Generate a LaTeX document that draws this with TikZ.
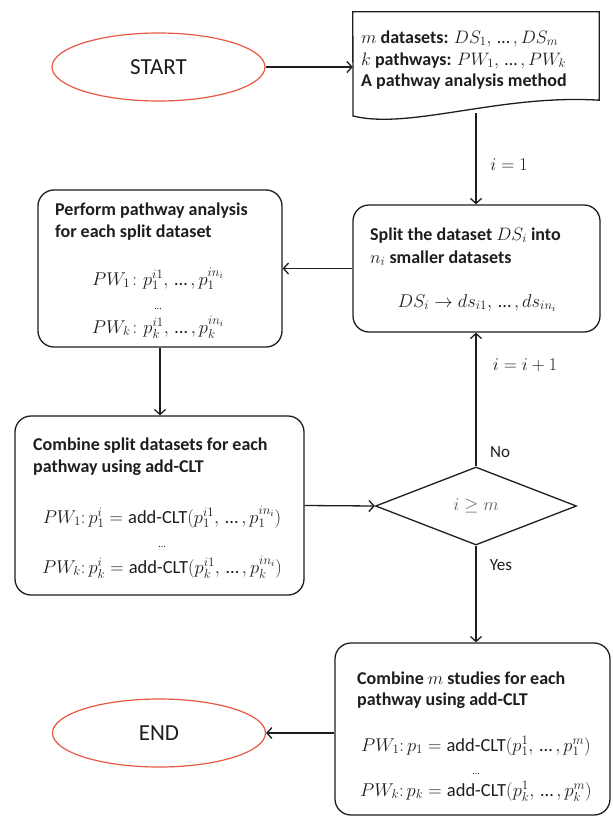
\RequirePackage{fix-cm}
\documentclass[tikz,border=0pt]{standalone}
\usepackage{amsmath}
\usepackage{fontspec}
\setmainfont{Carlito}
\usetikzlibrary{shapes.geometric,arrows.meta}
\definecolor{termred}{RGB}{232,88,66}
\definecolor{ink}{RGB}{30,30,30}
\newcommand{\dts}{\text{\normalfont\,…\,}}
\begin{document}
\begin{tikzpicture}[x=1pt,y=-1pt,
		>={Straight Barb[length=5pt,width=11pt]},
		terminal/.style={ellipse,draw=termred,line width=1.2pt,minimum width=213pt,minimum height=68pt,text=ink,font=\fontsize{23}{26}\selectfont},
		box/.style={draw=ink,rounded corners=16pt,line width=1.3pt,inner sep=0pt},
		txt/.style={anchor=base west,text=ink,inner sep=0pt,font=\fontsize{18}{22}\selectfont},
		formula/.style={anchor=base,text=ink,inner sep=0pt,font=\fontsize{18.5}{22}\selectfont},
		vdots/.style={anchor=base,text=ink,inner sep=0pt,font=\fontsize{10}{10}\selectfont},
		lbl/.style={anchor=center,text=ink,inner sep=0pt,font=\fontsize{17}{20}\selectfont},
		flow/.style={->,draw=ink,line width=1.3pt}]
			\useasboundingbox[fill=white] (0,0) rectangle (613,817);
			% terminals
			\node[terminal] (start) at (158.5,67) {START};
			\node[terminal] (end) at (159,733) {END};
			% input document
			\node[inner sep=0pt,minimum width=246pt,minimum height=88pt] (data) at (476,56) {};
			\draw[ink,line width=1.3pt] (data.north west) -- (data.north east) -- (data.south east) .. controls (500,94) and (410,130) .. (353,116) -- cycle;
			\coordinate (databot) at (476,113);
			\node[txt] (data1) at (361,43) {$m$ \textbf{datasets:} $DS_1,\dts,DS_m$};
			\node[txt] (data2) at (361,65) {$k$ \textbf{pathways:} $PW_1,\dts,PW_k$};
			\node[txt] (data3) at (361,86) {\textbf{A pathway analysis method}};
			% split
			\node[box,minimum width=247pt,minimum height=127pt] (split) at (476.5,268.5) {};
			\node[txt] (split1) at (370,240) {\textbf{Split the dataset} $DS_i$ \textbf{into}};
			\node[txt] (split2) at (370,263) {$n_i$ \textbf{smaller datasets}};
			\node[formula] (split3) at (477,307) {$DS_i \rightarrow ds_{i1},\dts,ds_{in_i}$};
			% perform
			\node[box,minimum width=244pt,minimum height=157pt] (perform) at (160,268.5) {};
			\node[txt] (perf1) at (55,215) {\textbf{Perform pathway analysis}};
			\node[txt] (perf2) at (55,237) {\textbf{for each split dataset}};
			\node[formula] (perf3) at (158,285) {$PW_1\colon p_1^{i1},\dts,p_1^{in_i}$};
			\node[vdots] (perf4) at (158,309) {…};
			\node[formula] (perf5) at (158,333) {$PW_k\colon p_k^{i1},\dts,p_k^{in_i}$};
			% combine split datasets
			\node[box,minimum width=289pt,minimum height=179pt] (comb) at (159.5,505.5) {};
			\node[txt] (comb1) at (33,450) {\textbf{Combine split datasets for each}};
			\node[txt] (comb2) at (33,472) {\textbf{pathway using add-CLT}};
			\node[formula] (comb3) at (162,523) {$PW_1{:}\,p_1^i = \text{add-CLT}(p_1^{i1},\dts,p_1^{in_i})$};
			\node[vdots] (comb4) at (162,547) {…};
			\node[formula] (comb5) at (162,573) {$PW_k{:}\,p_k^i = \text{add-CLT}(p_k^{i1},\dts,p_k^{in_i})$};
			% decision
			\node[diamond,draw=ink,line width=1.3pt,inner sep=0pt,minimum width=201pt,minimum height=78pt,text=ink!70,font=\fontsize{18}{22}\selectfont] (test) at (476,506) {$i \geq m$};
			% combine m studies
			\node[box,minimum width=275pt,minimum height=172pt] (combm) at (472.5,729) {};
			\node[txt] (combm1) at (357,684) {\textbf{Combine} $m$ \textbf{studies for each}};
			\node[txt] (combm2) at (357,705) {\textbf{pathway using add-CLT}};
			\node[formula] (combm3) at (476,751) {$PW_1{:}\,p_1 = \text{add-CLT}(p_1^1,\dts,p_1^m)$};
			\node[vdots] (combm4) at (476,774) {…};
			\node[formula] (combm5) at (476,796) {$PW_k{:}\,p_k = \text{add-CLT}(p_k^1,\dts,p_k^m)$};
			% labels
			\node[lbl,font=\fontsize{18}{22}\selectfont] (init) at (509,165) {$i = 1$};
			\node[lbl,font=\fontsize{18}{22}\selectfont] (incr) at (525,365) {$i = i + 1$};
			\node[lbl] (no) at (500,452) {No};
			\node[lbl] (yes) at (501,565) {Yes};
			% connectors
			\draw[flow] (start.east) -- (start.east -| data.west);
			\draw[flow] (databot) -- (databot |- split.north);
			\draw[flow] (split.west) -- (perform.east);
			\draw[flow] (perform.south) -- (perform.south |- comb.north);
			\draw[flow] (comb.east) -- (test.west);
			\draw[flow] (test.north) -- (test.north |- split.south);
			\draw[flow] (test.south) -- (test.south |- combm.north);
			\draw[flow] (end.east -| combm.west) -- (end.east);
		\end{tikzpicture}
\end{document}
